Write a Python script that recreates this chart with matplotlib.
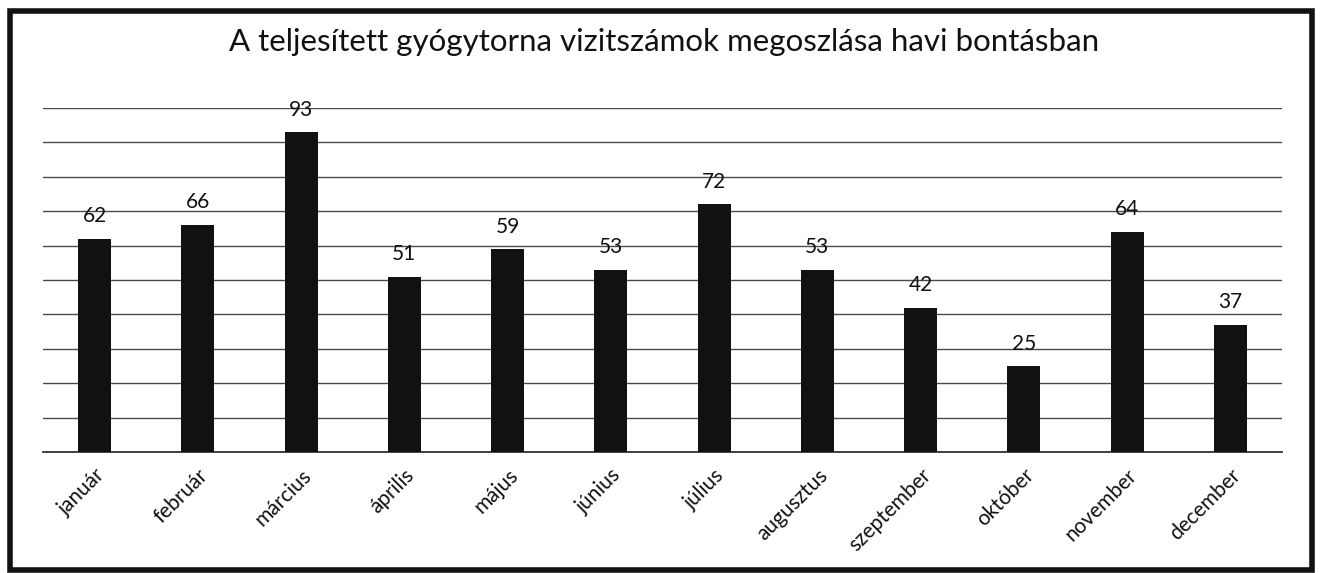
import matplotlib
matplotlib.use("Agg")
from matplotlib import pyplot as plt
from matplotlib.patches import Rectangle

plt.rcParams["font.family"] = ["Lato", "DejaVu Sans"]

MONTHS = ["január", "február", "március", "április", "május", "június",
          "július", "augusztus", "szeptember", "október", "november", "december"]
VISITS = [62, 66, 93, 51, 59, 53, 72, 53, 42, 25, 64, 37]
TITLE = "A teljesített gyógytorna vizitszámok megoszlása havi bontásban"

W, H = 1322, 573
fig = plt.figure(figsize=(W / 100, H / 100), dpi=100)
ax = fig.add_axes([43 / W, 121 / H, (1282 - 43) / W, (452 - 108) / H])

x = range(len(MONTHS))
bars = ax.bar(x, VISITS, width=0.32, color="#111111", zorder=3)

ax.set_xlim(-0.5, len(MONTHS) - 0.5)
ax.set_ylim(0, 100)
ax.set_yticks(range(0, 101, 10))
ax.yaxis.grid(True, color="#4a4a4a", linewidth=1.0, zorder=0)
ax.tick_params(axis="y", left=False, labelleft=False)
ax.tick_params(axis="x", bottom=False, pad=6)
for side in ("top", "right", "left"):
    ax.spines[side].set_visible(False)
ax.spines["bottom"].set_color("#333333")
ax.spines["bottom"].set_linewidth(1.3)

ax.set_xticks(list(x))
ax.set_xticklabels(MONTHS, rotation=45, ha="right", va="top",
                   rotation_mode="anchor", fontsize=15, color="#111111")

for rect, v in zip(bars, VISITS):
    ax.annotate(str(v), (rect.get_x() + rect.get_width() / 2, v),
                xytext=(0, 9), textcoords="offset points",
                ha="center", va="bottom", fontsize=15, color="#111111")

fig.text(664 / W, 1 - 42 / H, TITLE, ha="center", va="center",
         fontsize=22.5, color="#111111")

# heavy outer frame
fig.patches.append(Rectangle((10 / W, 3 / H), (1312 - 10) / W, (559) / H,
                             transform=fig.transFigure, fill=False,
                             edgecolor="#111111", linewidth=4))

fig.savefig("out.png", dpi=100, facecolor="white")
